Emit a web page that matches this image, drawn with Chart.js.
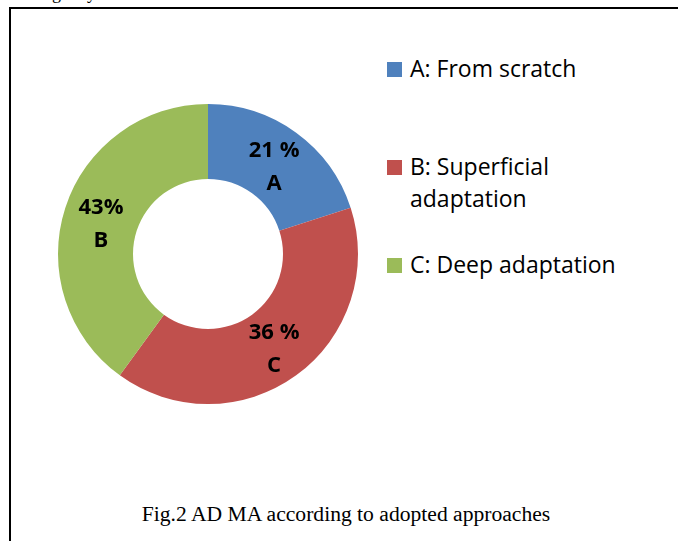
<!DOCTYPE html>
<html>
<head>
<meta charset="utf-8">
<script src="https://cdn.jsdelivr.net/npm/chart.js@4.4.1/dist/chart.umd.min.js"></script>
<style>
  html, body { margin: 0; padding: 0; background: #fff; }
  body { width: 678px; height: 541px; position: relative; overflow: hidden; }
  .cut { position: absolute; top: -17px; font: 18px "Liberation Serif", serif; color: #000; }
  .frame { position: absolute; left: 9px; top: 7px; right: 0; bottom: 0;
           border-top: 2px solid #000; border-left: 2px solid #000; }
  #pie { position: absolute; left: 58px; top: 104px; }
  .item { position: absolute; left: 387px; }
  .item .box { position: absolute; left: 0; top: 0; width: 15px; height: 15px; }
  .item .txt { position: absolute; left: 23px; top: -10px; width: 250px;
               font: 23px "Open Sans", sans-serif; line-height: 32px; color: #000; }
  .caption { position: absolute; left: 0; width: 692px; top: 502px; text-align: center;
             font: 21.6px "Liberation Serif", "Times New Roman", serif; color: #000; }
</style>
</head>
<body>
<span class="cut" style="left:52px">g</span><span class="cut" style="left:87px">y</span>
<div class="frame"></div>
<canvas id="pie" width="300" height="300"></canvas>
<div id="legend"></div>
<div class="caption">Fig.2 AD MA according to adopted approaches</div>
<script>
// slice sizes as drawn, and the labels as printed on the figure
const categories = ['A: From scratch', 'B: Superficial adaptation', 'C: Deep adaptation'];
const shares = [20, 40, 40];
const pctLabels = ['21 %', '36 %', '43%'];
const letterLabels = ['A', 'C', 'B'];
const colors = ['#4F81BD', '#C0504D', '#9BBB59'];

// percentage + letter written in the middle of each ring segment
const sliceLabels = {
  id: 'sliceLabels',
  afterDatasetsDraw(chart) {
    const ctx = chart.ctx;
    chart.getDatasetMeta(0).data.forEach((arc, i) => {
      const p = arc.getProps(['x', 'y', 'startAngle', 'endAngle', 'innerRadius', 'outerRadius'], true);
      const a = (p.startAngle + p.endAngle) / 2;
      const r = (p.innerRadius + p.outerRadius) / 2;
      const x = p.x + Math.cos(a) * r;
      const y = p.y + Math.sin(a) * r;
      ctx.save();
      ctx.font = 'bold 22px "Open Sans"';
      ctx.fillStyle = '#000';
      ctx.textAlign = 'center';
      ctx.textBaseline = 'middle';
      ctx.fillText(pctLabels[i], x, y - 12);
      ctx.fillText(letterLabels[i], x, y + 21);
      ctx.restore();
    });
  }
};

new Chart(document.getElementById('pie'), {
  type: 'doughnut',
  data: {
    labels: categories,
    datasets: [{
      data: shares,
      backgroundColor: colors,
      borderWidth: 0
    }]
  },
  options: {
    responsive: false,
    animation: false,
    cutout: '50%',
    layout: { padding: 0 },
    plugins: {
      legend: { display: false },
      tooltip: { enabled: false }
    }
  },
  plugins: [sliceLabels]
});

// legend on the right, one entry every 98px
const legend = document.getElementById('legend');
categories.forEach((name, i) => {
  const item = document.createElement('div');
  item.className = 'item';
  item.style.top = (62 + i * 98) + 'px';
  item.innerHTML = `<div class="box" style="background:${colors[i]}"></div><div class="txt">${name}</div>`;
  legend.appendChild(item);
});
</script>
</body>
</html>
